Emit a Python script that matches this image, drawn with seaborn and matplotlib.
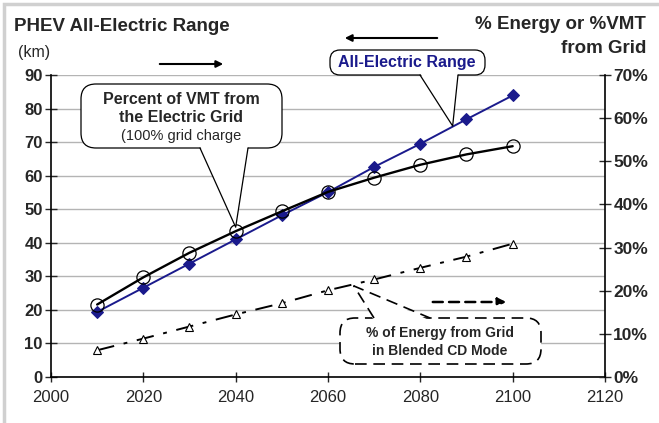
import numpy as np
import pandas as pd
import seaborn as sns
import matplotlib.pyplot as plt
from matplotlib.patches import Rectangle, FancyBboxPatch, Polygon
from matplotlib.lines import Line2D
from matplotlib.ticker import PercentFormatter

# ---------------------------------------------------------------- data
years = [2010, 2020, 2030, 2040, 2050, 2060, 2070, 2080, 2090, 2100]
aer_km = [19.4, 26.6, 33.8, 41.0, 48.2, 55.1, 62.6, 69.5, 76.8, 83.9]            # left axis
vmt_pct = [16.8, 23.1, 28.8, 33.8, 38.4, 42.9, 46.2, 49.2, 51.6, 53.5]          # right axis
energy_pct = [6.2, 8.9, 11.7, 14.5, 17.1, 20.1, 22.6, 25.3, 27.9, 30.9]         # right axis

df = pd.DataFrame({"year": years, "aer": aer_km,
                   "vmt": np.array(vmt_pct) / 100, "energy": np.array(energy_pct) / 100})

sns.set_style("white")
plt.rcParams["font.family"] = ["Liberation Sans", "DejaVu Sans"]

navy = "#1a1a8c"

fig = plt.figure(figsize=(6.59, 4.23), dpi=100)
ax = fig.add_axes([51 / 659, 1 - 377 / 423, (605 - 51) / 659, (377 - 75) / 423])
ax2 = ax.twinx()
px = fig.dpi_scale_trans  # boxes etc. placed in pixel/100 units


def P(x, y):
    # pixel position (from top-left) -> inches for dpi_scale_trans
    return (x / 100, (423 - y) / 100)


# left axis: all-electric range
ax.yaxis.grid(True, color="#b4b4b4", lw=1)
ax.set_axisbelow(True)
sns.lineplot(data=df, x="year", y="aer", ax=ax, color=navy, lw=1.4, marker="D",
             markersize=6.5, markeredgecolor=navy, zorder=3)

# right axis: percent series
sns.lineplot(data=df, x="year", y="vmt", ax=ax2, color="black", lw=1.7, marker="o",
             markersize=9.5, markerfacecolor="none", markeredgecolor="black",
             markeredgewidth=0.9)
sns.lineplot(data=df, x="year", y="energy", ax=ax2, color="black", lw=1.4,
             linestyle=(0, (9, 5, 2, 5)), marker="^", markersize=6,
             markerfacecolor="white", markeredgecolor="black", markeredgewidth=0.8)

ax.set_xlim(2000, 2120)
ax.set_xticks(range(2000, 2121, 20))
ax.set_ylim(0, 90)
ax.set_yticks(range(0, 91, 10))
ax2.set_ylim(0, 0.7)
ax2.set_yticks(np.arange(0, 0.71, 0.1))
ax2.yaxis.set_major_formatter(PercentFormatter(1.0, decimals=0))

for a in (ax, ax2):
    a.set_xlabel("")
    a.set_ylabel("")
    for s in a.spines.values():
        s.set_visible(False)
ax.spines["left"].set_visible(True)
ax.spines["bottom"].set_visible(True)
ax2.spines["right"].set_visible(True)
for s in ("left", "bottom"):
    ax.spines[s].set_color("black")
    ax.spines[s].set_linewidth(1.2)
ax2.spines["right"].set_color("black")
ax2.spines["right"].set_linewidth(1.2)

ax.tick_params(axis="y", left=True, direction="inout", length=8, width=1, labelsize=12,
               pad=2)
ax.tick_params(axis="x", bottom=True, direction="inout", length=7, width=1, labelsize=12,
               pad=6)
ax2.tick_params(axis="y", right=True, direction="inout", length=8, width=1, labelsize=12.5,
                pad=2)
for lab in ax.get_yticklabels() + ax2.get_yticklabels():
    lab.set_fontweight("bold")

# ---------------------------------------------------------------- titles
fig.text(14 / 659, 1 - 31 / 423, "PHEV All-Electric Range", fontsize=13.5, fontweight="bold",
         va="baseline")
fig.text(18 / 659, 1 - 57 / 423, "(km)", fontsize=11.5, va="baseline")
fig.text(646 / 659, 1 - 29 / 423, "% Energy or %VMT", fontsize=13.5, fontweight="bold",
         ha="right", va="baseline")
fig.text(646 / 659, 1 - 53 / 423, "from Grid", fontsize=13.5, fontweight="bold",
         ha="right", va="baseline")


# ---------------------------------------------------------------- callouts
def bubble(x0, y0, x1, y1, rs, dashed=False):
    ls = (0, (7, 4)) if dashed else "-"
    lw = 1.2 if dashed else 0.9
    b = FancyBboxPatch(P(x0, y1), (x1 - x0) / 100, (y1 - y0) / 100,
                       boxstyle=f"round,pad=0,rounding_size={rs}", transform=px,
                       fc="white", ec="black", lw=lw, ls=ls, zorder=5)
    fig.add_artist(b)
    return ls, lw


def tail(base_l, base_r, target, trans, ls, lw, lift=0.0, into=2.0):
    # callout pointer: white wedge over the box edge, two sides drawn as lines
    tx, ty = trans.transform(target)
    tip = (tx / 100, ty / 100 + lift / 100)
    bl, br = P(*base_l), P(*base_r)
    fill = Polygon([(bl[0], bl[1] + into / 100), tip, (br[0], br[1] + into / 100)],
                   closed=True, transform=px, fc="white", ec="none", zorder=5.1)
    fig.add_artist(fill)
    fig.add_artist(Line2D([bl[0], tip[0], br[0]], [bl[1], tip[1], br[1]], transform=px,
                          color="black", lw=lw, ls=ls, zorder=5.2))


# Percent of VMT bubble
ls1, lw1 = bubble(81, 84, 282, 148, 0.15)
tail((200, 148), (248, 148), (2040, 0.338), ax2.transData, ls1, lw1, lift=4)
fig.text(181 / 659, 1 - 99 / 423, "Percent of VMT from", fontsize=11.5, fontweight="bold",
         ha="center", va="center", zorder=6)
fig.text(181 / 659, 1 - 118 / 423, "the Electric Grid", fontsize=11.5, fontweight="bold",
         ha="center", va="center", zorder=6)
fig.text(181 / 659, 1 - 136 / 423, "(100% grid charge", fontsize=10.5,
         ha="center", va="center", zorder=6)

# All-Electric Range bubble
ls2, lw2 = bubble(330, 50, 485, 75, 0.1)
tail((420, 75), (458, 75), (2087, 74.8), ax.transData, ls2, lw2)
fig.text(407 / 659, 1 - 62.5 / 423, "All-Electric Range", fontsize=11.5, fontweight="bold",
         color=navy, ha="center", va="center", zorder=6)

# Blended CD mode bubble
ls3, lw3 = bubble(340, 318, 541, 364, 0.15, dashed=True)
tail((374, 318), (430, 318), (2065.6, 0.211), ax2.transData, ls3, lw3, into=-2.5)
fig.text(440 / 659, 1 - 333 / 423, "% of Energy from Grid", fontsize=10, fontweight="bold",
         ha="center", va="center", zorder=6)
fig.text(440 / 659, 1 - 351 / 423, "in Blended CD Mode", fontsize=10, fontweight="bold",
         ha="center", va="center", zorder=6)

# direction arrows
ax.annotate("", xy=(226 / 659, 1 - 64 / 423), xytext=(157 / 659, 1 - 64 / 423),
            xycoords="figure fraction", textcoords="figure fraction",
            arrowprops=dict(arrowstyle="-|>", color="black", lw=1.5, mutation_scale=10))
ax.annotate("", xy=(342 / 659, 1 - 38 / 423), xytext=(440 / 659, 1 - 38 / 423),
            xycoords="figure fraction", textcoords="figure fraction",
            arrowprops=dict(arrowstyle="-|>", color="black", lw=1.5, mutation_scale=10))
ax.annotate("", xy=(509 / 659, 1 - 302 / 423), xytext=(430 / 659, 1 - 302 / 423),
            xycoords="figure fraction", textcoords="figure fraction",
            arrowprops=dict(arrowstyle="-|>", color="black", lw=1.8, ls=(0, (4, 2.5)),
                            mutation_scale=12))

# light frame around the figure
fig.patches.append(Rectangle((4 / 659, -0.1), 1.2, 1.1 - 4 / 423, transform=fig.transFigure,
                             fill=False, ec="#d0d0d0", lw=2.5))

fig.savefig("out.png", dpi=100)
